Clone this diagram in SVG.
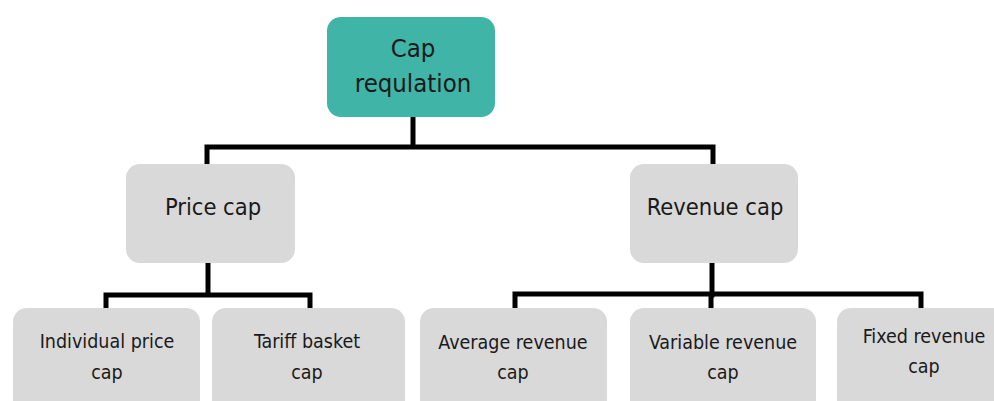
<svg xmlns="http://www.w3.org/2000/svg" width="994" height="401" viewBox="0 0 994 401">
  <style>
    .box { stroke: none; }
    .root { fill: #3fb4a7; }
    .leaf { fill: #d9d9d9; }
    text { font-family: "DejaVu Sans Condensed", "DejaVu Sans", sans-serif; font-stretch: condensed; fill: #1a1a1a; text-anchor: middle; }
    .t1 { font-size: 25.5px; }
    .t2 { font-size: 23.5px; }
    .t3 { font-size: 19.5px; }
    .link { fill: none; stroke: #000; stroke-width: 5; stroke-linejoin: miter; stroke-linecap: square; }
  </style>
  <rect width="994" height="401" fill="#ffffff"/>

  <!-- connectors -->
  <g id="connectors">
    <path class="link" d="M413,117 V147 M207,164 V147 H713 V164"/>
    <path class="link" d="M208,263 V295 M106,306 V295 H310 V306"/>
    <path class="link" d="M712,263 V295 M515,306 V294 H921 V306 M711,295 V306"/>
  </g>

  <g id="cap-regulation">
    <rect class="box root" x="327" y="17" width="168" height="100" rx="14"/>
    <text class="t1" x="413" y="57">Cap</text>
    <text class="t1" x="413" y="92">requlation</text>
  </g>

  <g id="price-cap">
    <rect class="box leaf" x="126" y="164" width="169" height="99" rx="14"/>
    <text class="t2" x="213" y="215">Price cap</text>
  </g>

  <g id="revenue-cap">
    <rect class="box leaf" x="630" y="164" width="168" height="99" rx="14"/>
    <text class="t2" x="715" y="215">Revenue cap</text>
  </g>

  <g id="individual-price-cap">
    <rect class="box leaf" x="13" y="308" width="187" height="110" rx="14"/>
    <text class="t3" x="107" y="348">Individual price</text>
    <text class="t3" x="107" y="379">cap</text>
  </g>

  <g id="tariff-basket-cap">
    <rect class="box leaf" x="212" y="308" width="193" height="110" rx="14"/>
    <text class="t3" x="307" y="348">Tariff basket</text>
    <text class="t3" x="307" y="379">cap</text>
  </g>

  <g id="average-revenue-cap">
    <rect class="box leaf" x="420" y="308" width="187" height="110" rx="14"/>
    <text class="t3" x="513" y="349">Average revenue</text>
    <text class="t3" x="513" y="379">cap</text>
  </g>

  <g id="variable-revenue-cap">
    <rect class="box leaf" x="630" y="308" width="186" height="110" rx="14"/>
    <text class="t3" x="723" y="349">Variable revenue</text>
    <text class="t3" x="723" y="379">cap</text>
  </g>

  <g id="fixed-revenue-cap">
    <rect class="box leaf" x="837" y="308" width="180" height="110" rx="14"/>
    <text class="t3" x="924" y="343">Fixed revenue</text>
    <text class="t3" x="924" y="373">cap</text>
  </g>
</svg>
